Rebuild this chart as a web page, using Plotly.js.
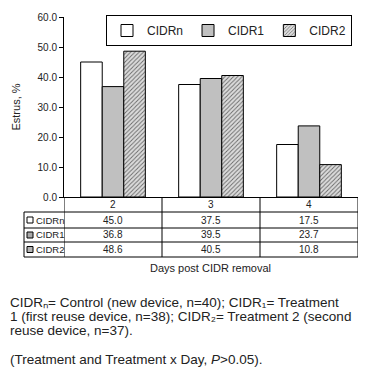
<!DOCTYPE html>
<html>
<head>
<meta charset="utf-8">
<script src="https://cdn.plot.ly/plotly-3.0.1.min.js"></script>
<style>html,body{margin:0;padding:0;background:#fff;}#chart{width:372px;height:375px;}</style>
</head>
<body>
<div id="chart"></div>
<script>
// ---- data ----
const days = ["2", "3", "4"];
const seriesNames = ["CIDRn", "CIDR1", "CIDR2"];
const cidrN = [45.0, 37.5, 17.5];
const cidr1 = [36.8, 39.5, 23.7];
const cidr2 = [48.6, 40.5, 10.8];
const yTicks = [0, 10, 20, 30, 40, 50, 60];
const xTitle = "Days post CIDR removal";
const yTitle = "Estrus, %";
const captionLines = [
  "CIDR\u2099= Control (new device, n=40); CIDR\u2081= Treatment",
  "1 (first reuse device, n=38); CIDR\u2082= Treatment 2 (second",
  "reuse device, n=37).",
  "(Treatment and Treatment x Day, <i>P</i>>0.05)."
];

// ---- layout helpers (pixel -> paper) ----
const L = 64, R = 14, T = 17, B = 178;
const PW = 372 - L - R, PH = 375 - T - B;
const px = x => (x - L) / PW;
const py = y => (375 - B - y) / PH;
const FONT = "Liberation Sans, Arial, sans-serif";
const TXT = "#222";

const seriesVals = [cidrN, cidr1, cidr2];
const seriesStyle = [
  {color: "#ffffff", line: {color: "#000", width: 1}},
  {color: "#c0c0c0", line: {color: "#000", width: 1}},
  {color: "#d0d0d0", line: {color: "#000", width: 1},
   pattern: {shape: "/", fgcolor: "#6a6a6a", bgcolor: "#dcdcdc", size: 3, solidity: 0.3}}
];

const traces = seriesNames.map((n, i) => ({
  type: "bar", name: n, x: days, y: seriesVals[i], marker: seriesStyle[i],
  hoverinfo: "skip"
}));

// table geometry (pixel rows)
const rowLines = [212, 228, 242, 257];
const rowCenters = [220, 235, 249.5];
const headerCenter = 204.5;

const shapes = [];
const annotations = [];
const ann = o => annotations.push(Object.assign({showarrow: false, yanchor: "middle", xanchor: "center"}, o));
// horizontal table lines
rowLines.forEach(y => shapes.push({type: "line", xref: "paper", yref: "paper",
  x0: px(24), x1: px(358), y0: py(y), y1: py(y), line: {color: "#000", width: 1}}));
// left label column line
shapes.push({type: "line", xref: "paper", yref: "paper", x0: px(24), x1: px(24),
  y0: py(212), y1: py(257), line: {color: "#000", width: 1}});
// category boundaries
for (let k = 0; k <= days.length; k++) {
  shapes.push({type: "line", xref: "x", yref: "paper", x0: k - 0.5, x1: k - 0.5,
    y0: py(197), y1: py(257), line: {color: "#000", width: 1}});
}
// header labels
days.forEach((d, j) => ann({xref: "x", yref: "paper", x: j, y: py(headerCenter),
  text: d, font: {size: 10, color: TXT, family: FONT}}));
// rows
const swatchFill = ["#ffffff", "#a8a8a8", "#b4b4b4"];
seriesNames.forEach((n, i) => {
  const yc = rowCenters[i];
  shapes.push({type: "rect", xref: "paper", yref: "paper", x0: px(27), x1: px(33),
    y0: py(yc + 3), y1: py(yc - 3), fillcolor: swatchFill[i], line: {color: "#000", width: 1}});
  ann({xref: "paper", yref: "paper", x: px(33.5), y: py(yc), xanchor: "left",
    text: n, font: {size: 9.5, color: TXT, family: FONT}});
  seriesVals[i].forEach((v, j) => ann({xref: "x", yref: "paper", x: j, y: py(yc),
    text: v.toFixed(1), font: {size: 10, color: TXT, family: FONT}}));
});
// x title
ann({xref: "paper", yref: "paper", x: px(210), y: py(268), text: xTitle,
  font: {size: 11, color: TXT, family: FONT}});
// caption
const capY = [302, 316, 330, 359];
captionLines.forEach((t, i) => ann({xref: "paper", yref: "paper", x: px(8), y: py(capY[i]),
  xanchor: "left", text: t, font: {size: 13.5, color: TXT, family: FONT}}));

const layout = {
  width: 372, height: 375,
  margin: {l: L, r: R, t: T, b: B, pad: 0},
  paper_bgcolor: "#fff", plot_bgcolor: "#fff",
  font: {family: FONT, color: TXT},
  barmode: "group", bargap: 0.34, bargroupgap: 0,
  showlegend: true,
  legend: {orientation: "h", x: px(352), y: py(15), xanchor: "right", yanchor: "top",
    bordercolor: "#000", borderwidth: 1, bgcolor: "#fff",
    font: {size: 12, color: TXT, family: FONT}, traceorder: "normal", itemwidth: 30,
    tracegroupgap: 0},
  xaxis: {type: "category", range: [-0.5, 2.5], showticklabels: false, ticks: "",
    showline: true, linecolor: "#000", linewidth: 1, showgrid: false, zeroline: false, fixedrange: true},
  yaxis: {range: [0, 60], tickvals: yTicks, tickformat: ".1f", ticks: "outside", ticklen: 4,
    tickcolor: "#000", showline: true, linecolor: "#000", linewidth: 1, showgrid: false,
    zeroline: false, tickfont: {size: 10, color: TXT, family: FONT},
    title: {text: yTitle, font: {size: 11, color: TXT, family: FONT}, standoff: 14}, fixedrange: true},
  shapes: shapes,
  annotations: annotations
};

Plotly.newPlot("chart", traces, layout, {staticPlot: true, displayModeBar: false});
</script>
</body>
</html>
